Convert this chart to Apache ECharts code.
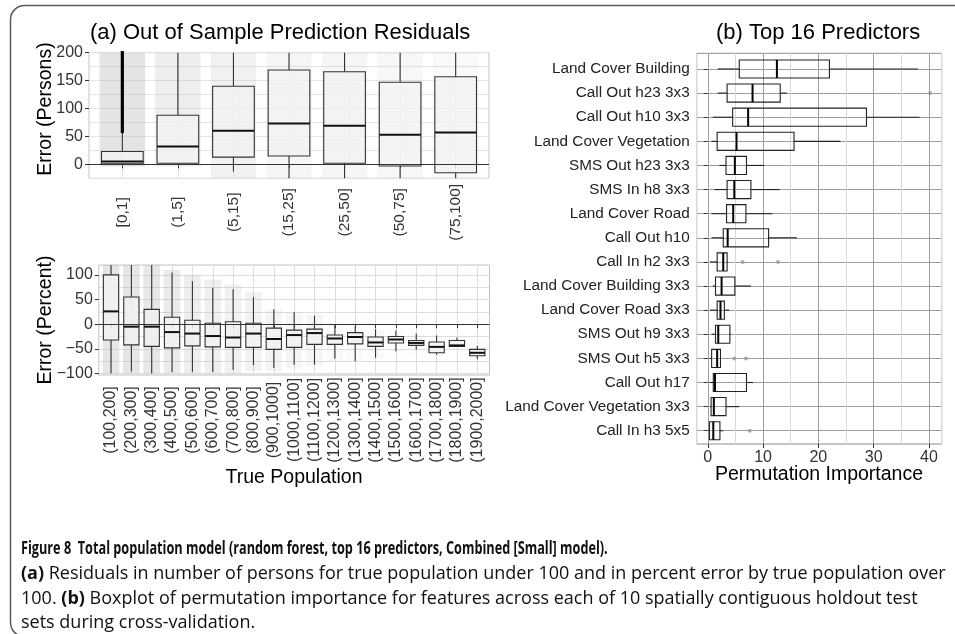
<!DOCTYPE html>
<html>
<head>
<meta charset="utf-8">
<script src="https://cdn.jsdelivr.net/npm/echarts@6/dist/echarts.min.js"></script>
<style>
html, body { margin: 0; padding: 0; background: #fff; }
#main { width: 955px; height: 634px; }
</style>
</head>
<body>
<div id="main"></div>
<script>
// (a) upper: error in persons, true population under 100
var smallCats = ["[0,1]", "(1,5]", "(5,15]", "(15,25]", "(25,50]", "(50,75]", "(75,100]"];
// lower whisker, q1, median, q3, upper whisker
var smallBoxes = [
  [0, 1, 5, 23, 56],
  [-1, 2, 32, 88, 200],
  [-13, 13, 60, 140, 200],
  [-25, 15, 73, 169, 200],
  [-25, 2, 69, 166, 200],
  [-25, -3, 53, 147, 200],
  [-25, -15, 57, 157, 200]
];
// dense run of outliers above the first box: [category, from, to]
var smallOutlierRuns = [[1, 56, 203]];
// extent and rough density of the jittered points behind each box
var smallCloudLow = [-4, -4, -25, -25, -25, -25, -25];
var smallCloudHigh = [200, 200, 200, 200, 200, 200, 200];
var smallCloudDensity = [0.85, 0.55, 0.45, 0.3, 0.3, 0.25, 0.2];

// (a) lower: error in percent, true population over 100
var largeCats = ["(100,200]", "(200,300]", "(300,400]", "(400,500]", "(500,600]", "(600,700]",
  "(700,800]", "(800,900]", "(900,1000]", "(1000,1100]", "(1100,1200]", "(1200,1300]",
  "(1300,1400]", "(1400,1500]", "(1500,1600]", "(1600,1700]", "(1700,1800]", "(1800,1900]", "(1900,2000]"];
var largeBoxes = [
  [-100, -32, 26, 100, 120],
  [-96, -42, -5, 55, 120],
  [-100, -45, -5, 30, 120],
  [-97, -48, -16, 14, 105],
  [-97, -44, -19, 8, 87],
  [-97, -46, -24, 2, 74],
  [-93, -47, -27, 5, 71],
  [-83, -47, -19, 2, 55],
  [-89, -51, -30, -8, 30],
  [-82, -47, -22, -12, 24],
  [-82, -41, -18, -10, 17],
  [-70, -41, -29, -22, 0],
  [-75, -40, -26, -17, -5],
  [-68, -45, -37, -26, -10],
  [-55, -38, -31, -25, -13],
  [-52, -43, -38, -33, -19],
  [-62, -58, -46, -36, -23],
  [-46, -45, -43, -33, -27],
  [-71, -64, -58, -51, -44]
];
var largeCloudLow = [-100, -100, -100, -100, -100, -100, -100, -95, -95, -90, -85, -75, -75, -70, -60, -60, -65, -50, -70];
var largeCloudHigh = [120, 120, 120, 110, 100, 90, 80, 65, 30, 25, 20, 5, 0, -10, -15, -20, -25, -30, -45];
var largeCloudDensity = [0.8, 0.8, 0.75, 0.65, 0.55, 0.5, 0.45, 0.4, 0.35, 0.3, 0.3, 0.2, 0.15, 0.15, 0.1, 0.1, 0.08, 0.05, 0.05];

// (b) permutation importance of the top 16 predictors
var predictors = ["Land Cover Building", "Call Out h23 3x3", "Call Out h10 3x3", "Land Cover Vegetation",
  "SMS Out h23 3x3", "SMS In h8 3x3", "Land Cover Road", "Call Out h10", "Call In h2 3x3",
  "Land Cover Building 3x3", "Land Cover Road 3x3", "SMS Out h9 3x3", "SMS Out h5 3x3",
  "Call Out h17", "Land Cover Vegetation 3x3", "Call In h3 5x5"];
var importanceBoxes = [
  [1.8, 5.7, 12.5, 22.0, 38.0],
  [1.8, 3.5, 8.1, 13.1, 14.3],
  [0.9, 4.5, 7.3, 28.7, 38.3],
  [0.7, 1.7, 5.2, 15.6, 24.0],
  [2.1, 3.3, 4.9, 7.0, 10.2],
  [1.2, 3.5, 4.8, 7.8, 13.0],
  [0.7, 3.4, 4.6, 6.9, 11.7],
  [0.7, 2.8, 3.6, 11.0, 16.1],
  [0.4, 1.7, 2.8, 3.5, 3.6],
  [0.9, 1.4, 2.5, 4.9, 7.8],
  [0.4, 1.7, 2.3, 3.0, 3.9],
  [0.7, 1.4, 1.9, 4.0, 4.2],
  [0.3, 0.7, 1.7, 2.3, 2.4],
  [0.3, 1.0, 1.3, 7.0, 8.2],
  [0.4, 0.6, 1.1, 3.3, 5.7],
  [0.1, 0.3, 1.0, 2.2, 2.8]
];
// [importance, predictor row]
var importanceOutliers = [[40.2, 2], [6.3, 9], [12.7, 9], [4.8, 13], [6.9, 13], [7.6, 16]];

var FONT = "'Liberation Sans', Arial, sans-serif";
var CAPTION_FONT = "'Open Sans', 'Noto Sans', sans-serif";

function seq(n) {
  var out = [];
  for (var i = 1; i <= n; i++) out.push(i);
  return out;
}
function catLabel(list) {
  return function (v) {
    var i = Math.round(v);
    return Math.abs(v - i) < 1e-6 && list[i - 1] ? list[i - 1] : "";
  };
}
function numLabel(step) {
  return function (v) {
    if (Math.abs(v % step) > 1e-6) return "";
    if (Math.abs(v) < 1e-9) return "0";
    return v < 0 ? "\u2212" + (-v) : String(v);
  };
}
function boxData(boxes) {
  return boxes.map(function (b, i) { return [i + 1].concat(b); });
}
function cloudData(lo, hi, dens) {
  return lo.map(function (l, i) { return [i + 1, l, hi[i], dens[i]]; });
}

// vertical box: [x, lo, q1, med, q3, hi]
function renderVBox(params, api) {
  var x = api.value(0);
  var lo = api.coord([x, api.value(1)]);
  var q1 = api.coord([x, api.value(2)]);
  var md = api.coord([x, api.value(3)]);
  var q3 = api.coord([x, api.value(4)]);
  var hi = api.coord([x, api.value(5)]);
  var w = api.size([0.75, 0])[0];
  var cx = lo[0];
  var ln = { stroke: "#333", lineWidth: 1.1 };
  return {
    type: "group",
    children: [
      { type: "line", shape: { x1: cx, y1: lo[1], x2: cx, y2: q1[1] }, style: ln },
      { type: "line", shape: { x1: cx, y1: q3[1], x2: cx, y2: hi[1] }, style: ln },
      { type: "rect", shape: { x: cx - w / 2, y: q3[1], width: w, height: q1[1] - q3[1] },
        style: { fill: "rgba(243,243,243,0.8)", stroke: "#333", lineWidth: 1.1 } },
      { type: "line", shape: { x1: cx - w / 2, y1: md[1], x2: cx + w / 2, y2: md[1] },
        style: { stroke: "#111", lineWidth: 2 } }
    ]
  };
}

// horizontal box: [row, lo, q1, med, q3, hi]
function renderHBox(params, api) {
  var r = api.value(0);
  var lo = api.coord([api.value(1), r]);
  var q1 = api.coord([api.value(2), r]);
  var md = api.coord([api.value(3), r]);
  var q3 = api.coord([api.value(4), r]);
  var hi = api.coord([api.value(5), r]);
  var h = Math.abs(api.size([0, 0.75])[1]);
  var cy = lo[1];
  var ln = { stroke: "#222", lineWidth: 1.1 };
  return {
    type: "group",
    children: [
      { type: "line", shape: { x1: lo[0], y1: cy, x2: q1[0], y2: cy }, style: ln },
      { type: "line", shape: { x1: q3[0], y1: cy, x2: hi[0], y2: cy }, style: ln },
      { type: "rect", shape: { x: q1[0], y: cy - h / 2, width: q3[0] - q1[0], height: h },
        style: { fill: "none", stroke: "#222", lineWidth: 1.1 } },
      { type: "line", shape: { x1: md[0], y1: cy - h / 2, x2: md[0], y2: cy + h / 2 },
        style: { stroke: "#000", lineWidth: 2 } }
    ]
  };
}

// jittered point cloud shown as a shaded band: [x, lo, hi, density]
function renderCloud(params, api) {
  var x = api.value(0);
  var top = api.coord([x, api.value(2)]);
  var bot = api.coord([x, api.value(1)]);
  var w = api.size([0.82, 0])[0];
  return {
    type: "rect",
    shape: { x: top[0] - w / 2, y: top[1], width: w, height: bot[1] - top[1] },
    style: { fill: "rgba(185,185,185," + (api.value(3) * 0.45).toFixed(3) + ")" }
  };
}

// outlier run drawn as a thick stroke: [x, from, to]
function renderRun(params, api) {
  var x = api.value(0);
  var a = api.coord([x, api.value(1)]);
  var b = api.coord([x, api.value(2)]);
  return { type: "line", shape: { x1: a[0], y1: a[1], x2: b[0], y2: b[1] },
    style: { stroke: "#000", lineWidth: 3.2 } };
}

var tickStyle = { show: true, length: 4, lineStyle: { color: "#333", width: 1 } };
var labelBase = { color: "#333", fontFamily: FONT, fontSize: 16 };
var zeroLine = {
  silent: true, symbol: "none", label: { show: false },
  lineStyle: { color: "#333", width: 1, type: "solid" },
  data: [{ yAxis: 0 }]
};

var chart = echarts.init(document.getElementById("main"));
var option = {
  animation: false,
  textStyle: { fontFamily: FONT },
  grid: [
    { left: 89, top: 52.7, width: 400, height: 125.6, show: true, borderColor: "#c4c4c4", borderWidth: 1, backgroundColor: "#fff" },
    { left: 98.8, top: 265, width: 390.7, height: 110, show: true, borderColor: "#c4c4c4", borderWidth: 1, backgroundColor: "#fff" },
    { left: 696.7, top: 53.3, width: 245, height: 390.7, show: true, borderColor: "#8c8c8c", borderWidth: 1, backgroundColor: "#fff" }
  ],
  xAxis: [
    { type: "value", gridIndex: 0, position: "bottom", min: 0.4, max: 7.6, minInterval: 1, maxInterval: 1,
      axisLine: { show: false }, axisTick: Object.assign({ customValues: seq(7) }, tickStyle),
      splitLine: { lineStyle: { color: "#e4e4e4", width: 1 } },
      axisLabel: Object.assign({ customValues: seq(7), formatter: catLabel(smallCats), rotate: 90,
        align: "center", verticalAlign: "middle", margin: 34 }, labelBase, { fontSize: 15.5 }) },
    { type: "value", gridIndex: 1, position: "bottom", min: 0.4, max: 19.6, minInterval: 1, maxInterval: 1,
      axisLine: { show: false }, axisTick: Object.assign({ customValues: seq(19) }, tickStyle),
      splitLine: { lineStyle: { color: "#dedede", width: 1 } },
      axisLabel: Object.assign({ customValues: seq(19), formatter: catLabel(largeCats), rotate: 90,
        align: "center", verticalAlign: "middle", margin: 45, interval: 0 }, labelBase) },
    { type: "value", gridIndex: 2, position: "bottom", min: -2, max: 42.3, minInterval: 5, maxInterval: 5,
      axisLine: { show: false }, axisTick: { show: false }, axisLabel: { show: false },
      splitLine: { lineStyle: { color: "#d9d9d9", width: 1 } } },
    { type: "value", gridIndex: 2, position: "bottom", min: -2, max: 42.3, minInterval: 10, maxInterval: 10,
      axisLine: { show: false }, axisTick: Object.assign({ customValues: [0, 10, 20, 30, 40] }, tickStyle),
      splitLine: { lineStyle: { color: "#9e9e9e", width: 1 } },
      axisLabel: Object.assign({ customValues: [0, 10, 20, 30, 40], formatter: numLabel(10), margin: 6 }, labelBase) }
  ],
  yAxis: [
    { type: "value", gridIndex: 0, position: "left", min: -25, max: 200, minInterval: 25, maxInterval: 25,
      axisLine: { show: false }, axisTick: { show: false }, axisLabel: { show: false },
      splitLine: { lineStyle: { color: "#e4e4e4", width: 1 } } },
    { type: "value", gridIndex: 0, position: "left", min: -25, max: 200, minInterval: 50, maxInterval: 50,
      axisLine: { show: false }, splitLine: { show: false },
      axisTick: Object.assign({ customValues: [0, 50, 100, 150, 200] }, tickStyle),
      axisLabel: Object.assign({ customValues: [0, 50, 100, 150, 200], formatter: numLabel(50), margin: 6 }, labelBase) },
    { type: "value", gridIndex: 1, position: "left", min: -103, max: 120, minInterval: 25, maxInterval: 25,
      axisLine: { show: false }, axisTick: { show: false }, axisLabel: { show: false },
      splitLine: { lineStyle: { color: "#dedede", width: 1 } } },
    { type: "value", gridIndex: 1, position: "left", min: -103, max: 120, minInterval: 50, maxInterval: 50,
      axisLine: { show: false }, splitLine: { show: false },
      axisTick: Object.assign({ customValues: [-100, -50, 0, 50, 100] }, tickStyle),
      axisLabel: Object.assign({ customValues: [-100, -50, 0, 50, 100], formatter: numLabel(50), margin: 6 }, labelBase) },
    { type: "value", gridIndex: 2, position: "left", inverse: true, min: 0.35, max: 16.55, minInterval: 1, maxInterval: 1,
      axisLine: { show: false }, axisTick: Object.assign({ customValues: seq(16) }, tickStyle),
      splitLine: { lineStyle: { color: "#9e9e9e", width: 1 } },
      axisLabel: Object.assign({ customValues: seq(16), formatter: catLabel(predictors), margin: 7, interval: 0 },
        labelBase, { color: "#222", fontSize: 15.3 }) }
  ],
  series: [
    { type: "custom", name: "persons cloud", xAxisIndex: 0, yAxisIndex: 0, renderItem: renderCloud,
      data: cloudData(smallCloudLow, smallCloudHigh, smallCloudDensity), markLine: zeroLine, z: 2 },
    { type: "custom", name: "persons outliers", xAxisIndex: 0, yAxisIndex: 0, renderItem: renderRun,
      data: smallOutlierRuns, z: 3 },
    { type: "custom", name: "persons", xAxisIndex: 0, yAxisIndex: 0, renderItem: renderVBox,
      data: boxData(smallBoxes), z: 4 },
    { type: "custom", name: "percent cloud", xAxisIndex: 1, yAxisIndex: 2, renderItem: renderCloud,
      data: cloudData(largeCloudLow, largeCloudHigh, largeCloudDensity), markLine: zeroLine, z: 2 },
    { type: "custom", name: "percent", xAxisIndex: 1, yAxisIndex: 2, renderItem: renderVBox,
      data: boxData(largeBoxes), z: 4 },
    { type: "custom", name: "importance", xAxisIndex: 3, yAxisIndex: 4, renderItem: renderHBox,
      data: boxData(importanceBoxes), z: 4 },
    { type: "scatter", name: "importance outliers", xAxisIndex: 3, yAxisIndex: 4, symbolSize: 4,
      itemStyle: { color: "#999" }, data: importanceOutliers, z: 5 }
  ],
  graphic: [
    { type: "rect", silent: true, z: 0, shape: { x: 10.5, y: 5.5, width: 960, height: 631, r: 14 },
      style: { fill: "none", stroke: "#5a5a5a", lineWidth: 1.5 } },
    { type: "text", x: 90, y: 33, style: { text: "(a) Out of Sample Prediction Residuals",
      font: "22px " + FONT, fill: "#000", align: "left", verticalAlign: "middle" } },
    { type: "text", x: 716, y: 33, style: { text: "(b) Top 16 Predictors",
      font: "22px " + FONT, fill: "#000", align: "left", verticalAlign: "middle" } },
    { type: "text", x: 46, y: 109, rotation: Math.PI / 2, style: { text: "Error (Persons)",
      font: "19.5px " + FONT, fill: "#000", align: "center", verticalAlign: "middle" } },
    { type: "text", x: 46, y: 320, rotation: Math.PI / 2, style: { text: "Error (Percent)",
      font: "19.5px " + FONT, fill: "#000", align: "center", verticalAlign: "middle" } },
    { type: "text", x: 294, y: 478, style: { text: "True Population",
      font: "19.5px " + FONT, fill: "#000", align: "center", verticalAlign: "middle" } },
    { type: "text", x: 819, y: 475, style: { text: "Permutation Importance",
      font: "19.5px " + FONT, fill: "#000", align: "center", verticalAlign: "middle" } },
    { type: "text", x: 21, y: 549, scaleX: 0.705, style: {
      text: "Figure 8  Total population model (random forest, top 16 predictors, Combined [Small] model).",
      font: "bold 18px " + CAPTION_FONT, fill: "#111", align: "left", verticalAlign: "middle" } },
    { type: "text", x: 21, y: 574, style: {
      text: "{b|(a)} Residuals in number of persons for true population under 100 and in percent error by true population over",
      font: "18px " + CAPTION_FONT, fill: "#111", align: "left", verticalAlign: "middle",
      rich: { b: { fontWeight: "bold", fontSize: 18, fontFamily: CAPTION_FONT, fill: "#111" } } } },
    { type: "text", x: 21, y: 599, style: {
      text: "100. {b|(b)} Boxplot of permutation importance for features across each of 10 spatially contiguous holdout test",
      font: "18px " + CAPTION_FONT, fill: "#111", align: "left", verticalAlign: "middle",
      rich: { b: { fontWeight: "bold", fontSize: 18, fontFamily: CAPTION_FONT, fill: "#111" } } } },
    { type: "text", x: 21, y: 623, style: {
      text: "sets during cross-validation.",
      font: "18px " + CAPTION_FONT, fill: "#111", align: "left", verticalAlign: "middle" } }
  ]
};
chart.setOption(option);
</script>
</body>
</html>
